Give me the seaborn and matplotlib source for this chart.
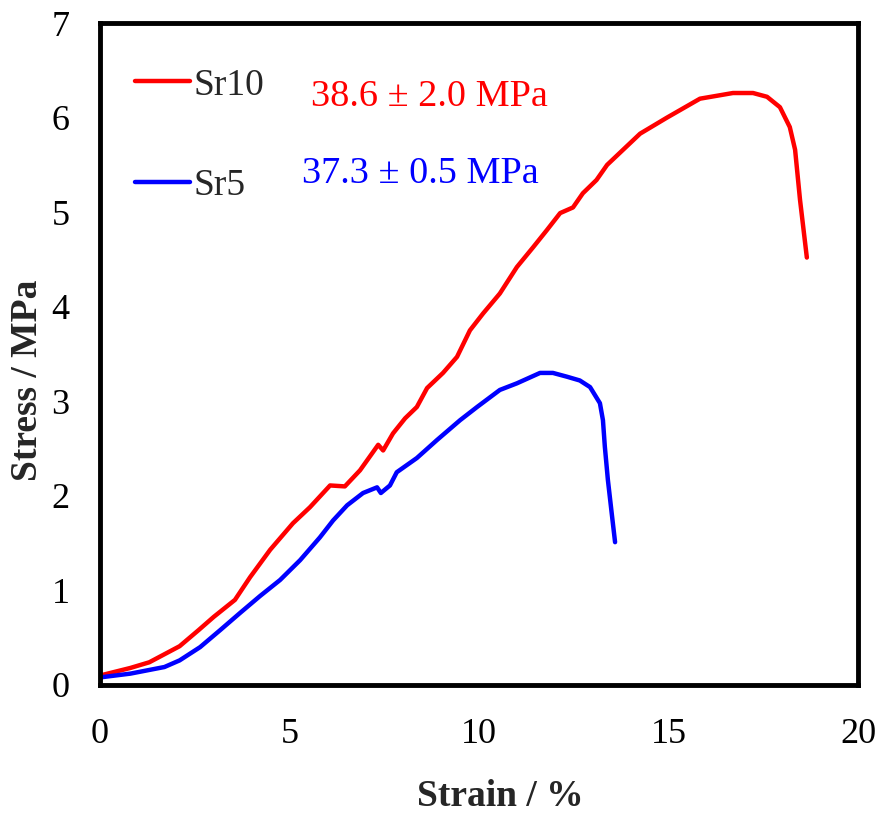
import matplotlib
matplotlib.use("Agg")
import matplotlib.pyplot as plt
import seaborn as sns
import pandas as pd

# Tensile stress-strain curves
sr10_strain = [0.0, 0.8, 1.3, 2.1, 2.6, 3.0, 3.56, 3.96, 4.49, 5.09, 5.54, 6.07, 6.46, 6.86,
               7.34, 7.47, 7.73, 8.05, 8.36, 8.63, 9.05, 9.42, 9.76, 10.11, 10.55, 11.0,
               11.43, 11.79, 12.14, 12.48, 12.74, 13.1, 13.38, 14.25, 14.96, 15.83, 16.70,
               17.23, 17.6, 17.94, 18.2, 18.34, 18.47, 18.65]
sr10_stress = [0.10, 0.18, 0.24, 0.41, 0.58, 0.72, 0.90, 1.14, 1.43, 1.71, 1.88, 2.11, 2.10, 2.27,
               2.54, 2.48, 2.66, 2.82, 2.94, 3.14, 3.30, 3.47, 3.75, 3.93, 4.14, 4.42,
               4.63, 4.81, 4.99, 5.05, 5.20, 5.34, 5.50, 5.83, 6.00, 6.20, 6.26,
               6.26, 6.22, 6.11, 5.90, 5.66, 5.13, 4.52]

sr5_strain = [0.0, 0.8, 1.7, 2.1, 2.64, 3.17, 3.69, 4.22, 4.75, 5.28, 5.80, 6.15, 6.52, 6.94,
              7.31, 7.41, 7.65, 7.83, 8.36, 8.89, 9.5, 9.95, 10.55, 11.0, 11.61, 11.95,
              12.32, 12.66, 12.93, 13.19, 13.27, 13.32, 13.40, 13.5, 13.59]
sr5_stress = [0.08, 0.12, 0.19, 0.26, 0.40, 0.58, 0.76, 0.94, 1.11, 1.32, 1.56, 1.74, 1.90, 2.03,
              2.09, 2.03, 2.11, 2.25, 2.40, 2.59, 2.80, 2.94, 3.12, 3.19, 3.30, 3.30,
              3.26, 3.22, 3.15, 2.98, 2.80, 2.52, 2.17, 1.82, 1.51]

samples = ["Sr10", "Sr5"]
strength_labels = ["38.6 ± 2.0 MPa", "37.3 ± 0.5 MPa"]
colors = {"Sr10": "#ff0000", "Sr5": "#0000ff"}

df = pd.concat([
    pd.DataFrame({"strain": sr10_strain, "stress": sr10_stress, "sample": "Sr10"}),
    pd.DataFrame({"strain": sr5_strain, "stress": sr5_stress, "sample": "Sr5"}),
], ignore_index=True)

sns.set_style("white")
plt.rcParams["font.family"] = ["Liberation Serif", "DejaVu Serif"]

fig = plt.figure(figsize=(8.82, 8.14), dpi=100)
ax = fig.add_axes([0.1134, 0.1585, 0.8594, 0.8132])

sns.lineplot(data=df, x="strain", y="stress", hue="sample", hue_order=samples,
             palette=colors, sort=False, estimator=None, linewidth=3.2, ax=ax)

ax.set_xlim(0, 20)
ax.set_ylim(0, 7)
ax.set_xticks([0, 5, 10, 15, 20])
ax.set_yticks(range(0, 8))
ax.tick_params(axis="both", which="both", direction="in", length=7, width=3,
               labelsize=26, colors="black")
ax.tick_params(axis="x", top=False, pad=24)
ax.tick_params(axis="y", right=False, pad=22)
for side in ["left", "right", "top", "bottom"]:
    ax.spines[side].set_visible(True)
    ax.spines[side].set_linewidth(3.5)
    ax.spines[side].set_color("black")

ax.set_xlabel("Strain / %", fontsize=27, fontweight="bold", va="center")
ax.set_ylabel("Stress / MPa", fontsize=27, fontweight="bold", va="center")
ax.xaxis.set_label_coords(0.528, -0.169)
ax.yaxis.set_label_coords(-0.096, 0.461)

leg = ax.legend(loc="upper left", bbox_to_anchor=(0.046, 0.932), frameon=False,
                fontsize=27, handlelength=1.47, handletextpad=0.08, labelspacing=1.75,
                borderpad=0, borderaxespad=0)
for line in leg.get_lines():
    line.set_linewidth(3.2)

ax.text(8.68, 6.22, strength_labels[0], color=colors["Sr10"], fontsize=27.5,
        ha="center", va="center")
ax.text(8.45, 5.41, strength_labels[1], color=colors["Sr5"], fontsize=27.5,
        ha="center", va="center")

fig.savefig("out.png", dpi=100)
